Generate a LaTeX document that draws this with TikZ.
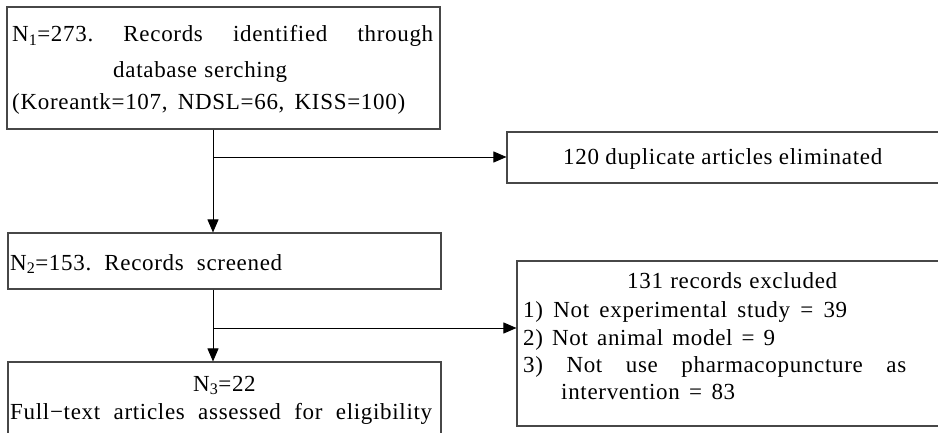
\documentclass[tikz,border=0pt]{standalone}
\usepackage{fontspec}
\setmainfont{Liberation Serif}[LetterSpace=3]
\usetikzlibrary{arrows.meta}
\frenchspacing
\newcommand\fitto[2]{\hbox to #1{\frenchspacing\spaceskip=0.3em plus 1fil minus 0.25em\relax #2}}
\begin{document}
\begin{tikzpicture}[x=1pt,y=-1pt,
  boxstyle/.style={draw=black!72, line width=1.1pt, rectangle, inner sep=0pt},
  conn/.style={draw=black, line width=0.9pt},
  arr/.style={conn, -{Triangle[length=13pt,width=11pt]}},
  txt/.style={anchor=base west, inner sep=0pt, font=\fontsize{23}{26}\selectfont}]
\useasboundingbox (0,0) rectangle (938,433);
\clip (0,0) rectangle (938,433);
\fill[white] (0,0) rectangle (938,433);
% boxes
\node[boxstyle, minimum width=433pt, minimum height=122pt] (b1) at (223.5,68) {};
\node[boxstyle, minimum width=440pt, minimum height=51pt] (b2) at (727,157.5) {};
\node[boxstyle, minimum width=433pt, minimum height=56pt] (b3) at (224.5,261) {};
\node[boxstyle, minimum width=430pt, minimum height=165pt] (b4) at (732,343.5) {};
\node[boxstyle, minimum width=433pt, minimum height=98pt] (b5) at (224.5,411) {};
% connectors
\coordinate (spine) at (213,0);
\coordinate (j1) at (213,157);
\coordinate (j2) at (213,328);
\draw[arr] (b1.south -| spine) -- (b3.north -| spine);
\draw[arr] (j1) -- (j1 -| b2.west);
\draw[arr] (b3.south -| spine) -- (b5.north -| spine);
\draw[arr] (j2) -- (j2 -| b4.west);
% texts
\node[txt] (t1a) at (12,42) {\fitto{421pt}{N\textsubscript{1}=273. Records identified through}};
\node[txt] (t1b) at (113,78) {\fitto{174pt}{database serching}};
\node[txt] (t1c) at (12,110) {\fitto{393pt}{(Koreantk=107, NDSL=66, KISS=100)}};
\node[txt] (t2) at (563,165) {\fitto{319pt}{120 duplicate articles eliminated}};
\node[txt] (t3) at (10,270) {\fitto{272pt}{N\textsubscript{2}=153. Records screened}};
\node[txt] (t4a) at (627,288) {\fitto{210pt}{131 records excluded}};
\node[txt] (t4b) at (523,317) {\fitto{324pt}{1) Not experimental study = 39}};
\node[txt] (t4c) at (523,345) {\fitto{252pt}{2) Not animal model = 9}};
\node[txt] (t4d) at (523,372) {\fitto{383pt}{3) Not use pharmacopuncture as}};
\node[txt] (t4e) at (561,399) {\fitto{174pt}{intervention = 83}};
\node[txt, anchor=base] (t5a) at (224.5,391) {N\textsubscript{3}=22};
\node[txt] (t5b) at (10,419) {\fitto{422pt}{Full−text articles assessed for eligibility}};
\end{tikzpicture}
\end{document}
